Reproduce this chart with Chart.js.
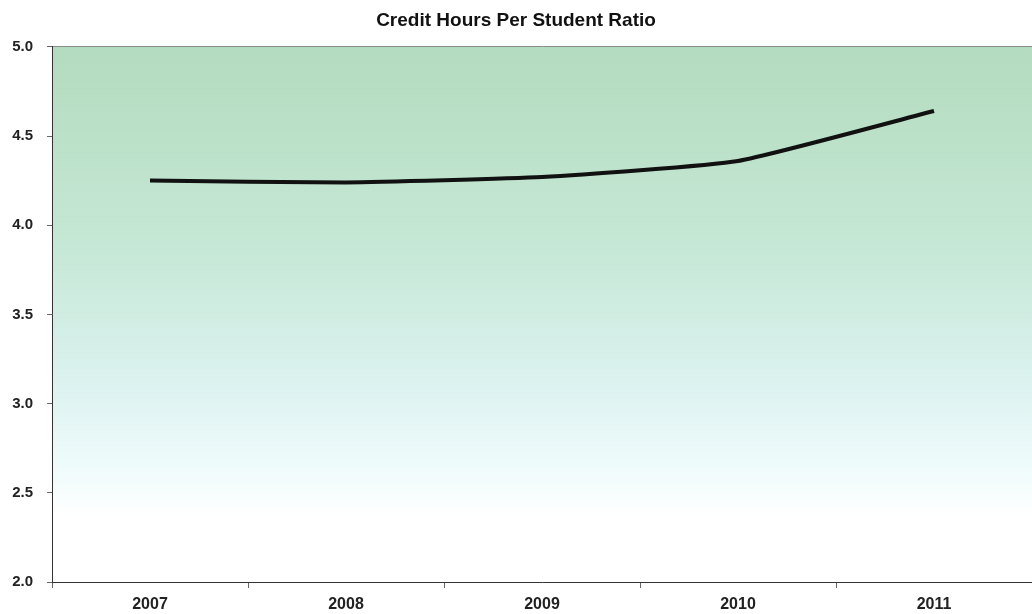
<!DOCTYPE html>
<html>
<head>
<meta charset="utf-8">
<script src="https://cdn.jsdelivr.net/npm/chart.js@4/dist/chart.umd.min.js"></script>
<style>
  html, body { margin: 0; padding: 0; background: #ffffff; }
  #wrap { width: 1032px; height: 614px; }
</style>
</head>
<body>
<div id="wrap"><canvas id="c" width="1032" height="614"></canvas></div>
<script>
const chartTitle = 'Credit Hours Per Student Ratio';
const categories = ['2007', '2008', '2009', '2010', '2011'];
const ratioValues = [4.25, 4.24, 4.27, 4.36, 4.64];
const yTicks = [2.0, 2.5, 3.0, 3.5, 4.0, 4.5, 5.0];

const bgPlugin = {
  id: 'plotBg',
  beforeDraw(chart) {
    const { ctx, chartArea: a } = chart;
    if (!a) return;
    const g = ctx.createLinearGradient(0, a.top, 0, a.bottom);
    g.addColorStop(0.0, '#b3dbbe');
    g.addColorStop(0.38, '#c6e8d6');
    g.addColorStop(0.62, '#dbf2ef');
    g.addColorStop(0.78, '#eefbfb');
    g.addColorStop(0.88, '#ffffff');
    g.addColorStop(1.0, '#ffffff');
    ctx.save();
    ctx.fillStyle = g;
    ctx.fillRect(a.left, a.top, a.right - a.left, a.bottom - a.top);
    ctx.restore();
  }
};

new Chart(document.getElementById('c'), {
  type: 'line',
  data: {
    labels: categories,
    datasets: [{
      data: ratioValues,
      borderColor: '#111111',
      borderWidth: 4,
      pointRadius: 0,
      tension: 0.15,
      fill: false
    }]
  },
  options: {
    responsive: false,
    animation: false,
    layout: { padding: 0 },
    plugins: {
      legend: { display: false },
      tooltip: { enabled: false },
      title: {
        display: true,
        text: chartTitle,
        color: '#111111',
        font: { family: 'Liberation Sans, Arial, sans-serif', size: 19, weight: 'bold' },
        padding: { top: 9, bottom: 15 }
      }
    },
    scales: {
      x: {
        type: 'category',
        offset: true,
        grid: {
          offset: true,
          color: 'transparent',
          tickColor: '#666666',
          tickLength: 6,
          drawOnChartArea: false
        },
        border: { display: true, color: '#333333', width: 1 },
        ticks: {
          color: '#222222',
          padding: 7,
          maxRotation: 0,
          font: { family: 'Liberation Sans, Arial, sans-serif', size: 16, weight: 'bold' }
        },
        afterFit(scale) { scale.height = 32; }
      },
      y: {
        min: 2,
        max: 5,
        afterBuildTicks(scale) { scale.ticks = yTicks.map(v => ({ value: v })); },
        grid: {
          color: (c) => (c.tick && c.tick.value === 5 ? '#8a8a8a' : 'transparent'),
          tickColor: '#666666',
          tickLength: 5
        },
        border: { display: true, color: '#333333', width: 1 },
        ticks: {
          color: '#222222',
          padding: 14,
          callback: (v) => Number(v).toFixed(1),
          font: { family: 'Liberation Sans, Arial, sans-serif', size: 15, weight: 'bold' }
        },
        afterFit(scale) { scale.width = 52; }
      }
    }
  },
  plugins: [bgPlugin]
});
</script>
</body>
</html>
